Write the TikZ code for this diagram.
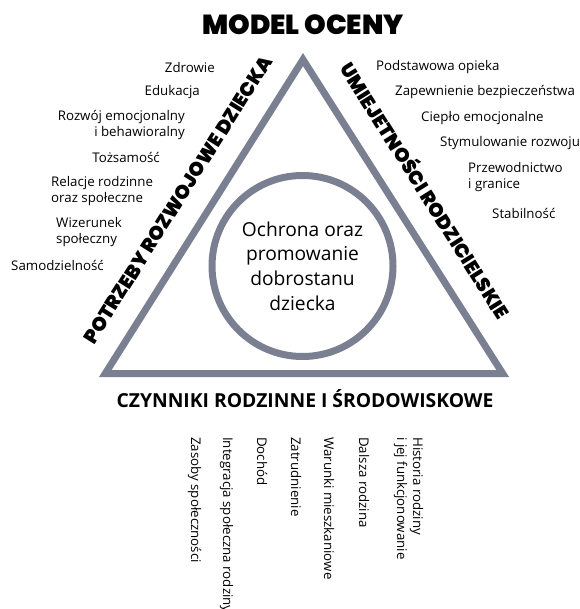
\documentclass[tikz,border=0pt]{standalone}
\usepackage{fontspec}
\setmainfont{Open Sans}
\IfFontExistsTF{Poppins Black}{\newfontfamily\heavy{Poppins Black}}{\IfFontExistsTF{Poppins}{\newfontfamily\heavy{Poppins}[UprightFont={* Bold}]}{\newcommand\heavy{\bfseries}}}
\definecolor{edgegray}{RGB}{122,128,145}
\begin{document}
\begin{tikzpicture}[x=1pt,y=-1pt,
  tri/.style={draw=edgegray, line width=7pt, line join=miter},
  ring/.style={circle, draw=edgegray, line width=7pt, minimum size=181pt, inner sep=0pt, align=center, font=\fontsize{19.2}{24.7}\selectfont},
  lab/.style={font=\fontsize{13.3}{16.8}\selectfont, inner sep=0pt},
  titlefont/.style={font=\heavy\fontsize{27.5}{30}\selectfont, inner sep=0pt, anchor=base},
  side/.style={font=\heavy\fontsize{19.5}{22}\selectfont, inner sep=0pt, anchor=base},
  heading/.style={font=\bfseries\fontsize{19.3}{22}\selectfont, inner sep=0pt, anchor=base},
  vlab/.style={lab, rotate=-90, anchor=base west}]
\useasboundingbox (0,0) rectangle (579,609);
\coordinate (ap) at (303,59.6);
\coordinate (bl) at (105.3,373.5);
\coordinate (br) at (502.7,373.5);
\draw[tri] (ap) -- (bl) -- (br) -- cycle;
\node[ring] (core) at (302.5,266) {Ochrona oraz\\promowanie\\dobrostanu\\dziecka};
\node[titlefont] (title) at (303,35) {MODEL OCENY};
\node[side, rotate=57.8] (needs) at (183.8,203.6) {POTRZEBY ROZWOJOWE DZIECKA};
\node[side, rotate=-57.8] (skills) at (418.6,194.8) {UMIEJETNOŚCI RODZICIELSKIE};
\node[heading] (env) at (305,407) {CZYNNIKI RODZINNE I ŚRODOWISKOWE};
% left
\node[lab, anchor=east] (l1) at (215,68) {Zdrowie};
\node[lab, anchor=east] (l2) at (200,92) {Edukacja};
\node[lab, anchor=east, align=right] (l3) at (185,125) {Rozwój emocjonalny\\i behawioralny};
\node[lab, anchor=east] (l4) at (160,157) {Tożsamość};
\node[lab, anchor=west, align=left] (l5) at (51,191) {Relacje rodzinne\\oraz społeczne};
\node[lab, anchor=west, align=left] (l6) at (56,232) {Wizerunek\\społeczny};
\node[lab, anchor=west] (l7) at (11,265) {Samodzielność};
% right
\node[lab, anchor=west] (r1) at (376,67) {Podstawowa opieka};
\node[lab, anchor=west] (r2) at (395,92) {Zapewnienie bezpieczeństwa};
\node[lab, anchor=west] (r3) at (421,118) {Ciepło emocjonalne};
\node[lab, anchor=west] (r4) at (440,143) {Stymulowanie rozwoju};
\node[lab, anchor=west, align=left] (r5) at (468,177) {Przewodnictwo\\i granice};
\node[lab, anchor=west] (r6) at (492,213) {Stabilność};
% bottom
\node[vlab] (b1) at (413,437) {Historia rodziny};
\node[vlab] (b2) at (397,437) {i jej funkcjonowanie};
\node[vlab] (b3) at (359,437) {Dalsza rodzina};
\node[vlab] (b4) at (324,437) {Warunki mieszkaniowe};
\node[vlab] (b5) at (291,437) {Zatrudnienie};
\node[vlab] (b6) at (257,437) {Dochód};
\node[vlab] (b7) at (223,437) {Integracja społeczna rodziny};
\node[vlab] (b8) at (191,437) {Zasoby społeczności};
\end{tikzpicture}
\end{document}
